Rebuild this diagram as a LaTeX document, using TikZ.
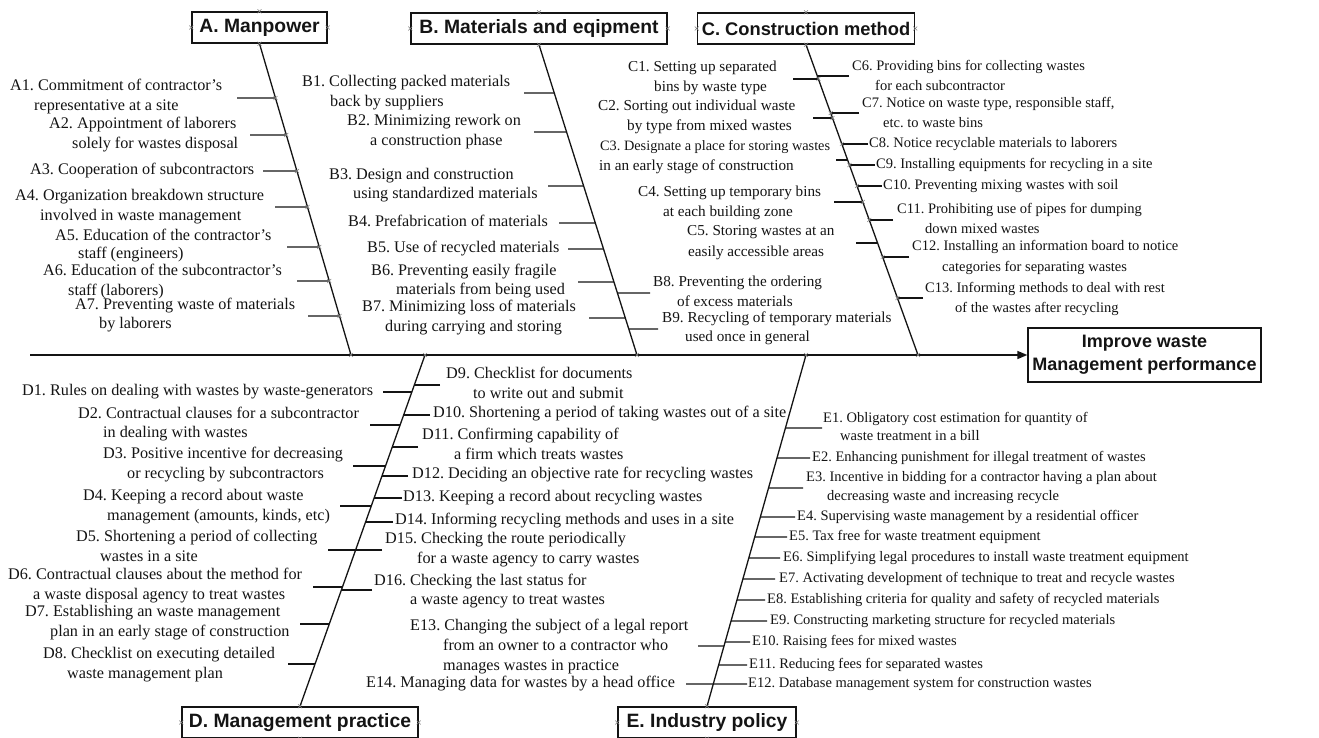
\documentclass[tikz,border=0pt]{standalone}
\usepackage{fontspec}
\setmainfont{Liberation Serif}
\newfontfamily\hfont{Liberation Sans}
\usetikzlibrary{arrows.meta}
\definecolor{ink}{gray}{0.08}
\frenchspacing
\newcommand\mylab[5][]{\node[lbl,#1] (#2) at (#3,#4) {#5};}
\newcommand\myrib[5]{%
  \coordinate (#1) at (intersection of #2--#3 and 0,#4--1,#4);
  \coordinate (#1f) at (#5,#4);
  \draw[ribline] (#1f) -- (#1);}
\begin{document}
\begin{tikzpicture}[x={(1pt,0)}, y={(0,-1pt)},
  lbl/.style={anchor=west, inner sep=0pt, text=ink, text height=11pt, text depth=3.5pt, font=\frenchspacing\fontsize{16.2}{19}\selectfont},
  fc/.style={font=\frenchspacing\fontsize{15.2}{19}\selectfont},
  fr/.style={font=\frenchspacing\fontsize{14.5}{19}\selectfont},
  fb/.style={font=\frenchspacing\fontsize{15.2}{19}\selectfont},
  fs/.style={font=\frenchspacing\fontsize{14.3}{19}\selectfont},
  catbox/.style={draw=ink, line width=1.4pt, inner sep=0pt, text=ink, minimum height=31pt, font=\hfont\bfseries\fontsize{19.3}{23}\selectfont},
  goalbox/.style={draw=ink, line width=1.4pt, inner sep=0pt, text=ink, minimum width=233pt, minimum height=54pt, align=center, font=\hfont\bfseries\fontsize{18}{23}\selectfont},
  ribline/.style={draw=ink, line width=1.2pt},
  spineline/.style={draw=ink, line width=1.3pt},
  mainline/.style={draw=ink, line width=1.5pt},
  xmk/.style={draw=gray, line width=0.5pt},
  xm/.pic={\draw[xmk] (-2,-2) -- (2,2) (-2,2) -- (2,-2);}]
\useasboundingbox (0,0) rectangle (1319,738);
\fill[white] (0,0) rectangle (1319,738);

% category boxes
\node[catbox, minimum width=135pt] (A) at (259.5,27.5) {A. Manpower};
\node[catbox, minimum width=256pt] (B) at (539,28.5) {B. Materials and eqipment};
\node[catbox, minimum width=217pt, font=\hfont\bfseries\fontsize{18.3}{23}\selectfont] (C) at (806,28.5) {C. Construction method};
\node[catbox, minimum width=236pt] (D) at (300,722.5) {D. Management practice};
\node[catbox, minimum width=178pt] (E) at (707,722.5) {E. Industry policy};
\node[goalbox] (G) at (1144.5,355) {Improve waste\\Management performance};

% main line
\coordinate (m0) at (30,355);
\draw[mainline, -{Triangle[length=10pt,width=8pt]}] (m0) -- (G.west);

% spine junctions
\coordinate (aT) at (A.south); \coordinate (aJ) at (351,355);
\coordinate (bT) at (B.south); \coordinate (bJ) at (637,355);
\coordinate (cT) at (C.south); \coordinate (cJ) at (918,355);
\coordinate (dT) at (D.north); \coordinate (dJ) at (425,355);
\coordinate (eT) at (E.north); \coordinate (eJ) at (806,355);
\draw[spineline] (aT) -- (aJ);
\draw[spineline] (bT) -- (bJ);
\draw[spineline] (cT) -- (cJ);
\draw[spineline] (dJ) -- (dT);
\draw[spineline] (eJ) -- (eT);

% ribs A
\myrib{rA1}{aT}{aJ}{98}{237}
\myrib{rA2}{aT}{aJ}{135}{250}
\myrib{rA3}{aT}{aJ}{171}{263}
\myrib{rA4}{aT}{aJ}{207}{275}
\myrib{rA5}{aT}{aJ}{247}{287}
\myrib{rA6}{aT}{aJ}{281}{297}
\myrib{rA7}{aT}{aJ}{316}{308}
% ribs B
\myrib{rB1}{bT}{bJ}{93}{524}
\myrib{rB2}{bT}{bJ}{132}{534}
\myrib{rB3}{bT}{bJ}{186}{548}
\myrib{rB4}{bT}{bJ}{223}{559}
\myrib{rB5}{bT}{bJ}{249}{568}
\myrib{rB6}{bT}{bJ}{282}{578}
\myrib{rB7}{bT}{bJ}{318}{589}
\myrib{rB8}{bT}{bJ}{293}{650}
\myrib{rB9}{bT}{bJ}{329}{658}
% ribs C
\myrib{rC1}{cT}{cJ}{79}{793}
\myrib{rC6}{cT}{cJ}{76}{849}
\myrib{rC2}{cT}{cJ}{118}{813}
\myrib{rC7}{cT}{cJ}{113}{859}
\myrib{rC8}{cT}{cJ}{144}{868}
\myrib{rC3}{cT}{cJ}{160}{836}
\myrib{rC9}{cT}{cJ}{165}{875}
\myrib{rC10}{cT}{cJ}{186}{882}
\myrib{rC4}{cT}{cJ}{202}{834}
\myrib{rC11}{cT}{cJ}{220}{893}
\myrib{rC5}{cT}{cJ}{243}{856}
\myrib{rC12}{cT}{cJ}{257}{909}
\myrib{rC13}{cT}{cJ}{298}{923}
% ribs D
\myrib{rD1}{dJ}{dT}{392}{383}
\myrib{rD9}{dJ}{dT}{385}{440}
\myrib{rD10}{dJ}{dT}{415}{430}
\myrib{rD2}{dJ}{dT}{425}{370}
\myrib{rD11}{dJ}{dT}{447}{418}
\myrib{rD3}{dJ}{dT}{466}{353}
\myrib{rD12}{dJ}{dT}{476}{408}
\myrib{rD13}{dJ}{dT}{498}{402}
\myrib{rD4}{dJ}{dT}{506}{340}
\myrib{rD14}{dJ}{dT}{522}{393}
\myrib{rD5}{dJ}{dT}{550}{328}
\myrib{rD15}{dJ}{dT}{550}{382}
\myrib{rD6}{dJ}{dT}{587}{313}
\myrib{rD16}{dJ}{dT}{590}{372}
\myrib{rD7}{dJ}{dT}{624}{300}
\myrib{rD8}{dJ}{dT}{664}{288}
% ribs E
\myrib{rE1}{eJ}{eT}{428}{822}
\myrib{rE2}{eJ}{eT}{458}{810}
\myrib{rE3}{eJ}{eT}{488}{803}
\myrib{rE4}{eJ}{eT}{517}{795}
\myrib{rE5}{eJ}{eT}{537}{787}
\myrib{rE6}{eJ}{eT}{558}{780}
\myrib{rE7}{eJ}{eT}{579}{775}
\myrib{rE8}{eJ}{eT}{600}{765}
\myrib{rE9}{eJ}{eT}{621}{767}
\myrib{rE10}{eJ}{eT}{642}{750}
\myrib{rE13}{eJ}{eT}{646}{698}
\myrib{rE11}{eJ}{eT}{665}{747}
\myrib{rE12}{eJ}{eT}{684}{747}
\myrib{rE14}{eJ}{eT}{684}{686}

% connection marks
\foreach \b in {A,B,C,D,E}{
  \pic at (\b.north) {xm}; \pic at (\b.south) {xm};
  \pic at (\b.west) {xm}; \pic at (\b.east) {xm};}
\foreach \p in {aJ,bJ,cJ,dJ,eJ,rA1,rA2,rA3,rA4,rA5,rA6,rA7,rC1,rC2,rC7,rC8,rC9,rC10,rC4,rC11,rC12,rC13}{\pic at (\p) {xm};}

% labels A
\mylab{A1a}{10}{87}{A1. Commitment of contractor’s}
\mylab{A1b}{34}{107}{representative at a site}
\mylab{A2a}{49}{125}{A2. Appointment of laborers}
\mylab{A2b}{72}{145}{solely for wastes disposal}
\mylab{A3}{30}{171}{A3. Cooperation of subcontractors}
\mylab{A4a}{15}{197}{A4. Organization breakdown structure}
\mylab{A4b}{40}{217}{involved in waste management}
\mylab{A5a}{55}{237}{A5. Education of the contractor’s}
\mylab{A5b}{78}{255}{staff (engineers)}
\mylab{A6a}{43}{272}{A6. Education of the subcontractor’s}
\mylab{A6b}{68}{292}{staff (laborers)}
\mylab{A7a}{75}{306}{A7. Preventing waste of materials}
\mylab{A7b}{99}{325}{by laborers}
% labels B
\mylab{B1a}{302}{83}{B1. Collecting packed materials}
\mylab{B1b}{330}{103}{back by suppliers}
\mylab{B2a}{347}{122}{B2. Minimizing rework on}
\mylab{B2b}{370}{142}{a construction phase}
\mylab{B3a}{329}{176}{B3. Design and construction}
\mylab{B3b}{353}{195}{using standardized materials}
\mylab{B4}{348}{223}{B4. Prefabrication of materials}
\mylab{B5}{367}{249}{B5. Use of recycled materials}
\mylab{B6a}{371}{272}{B6. Preventing easily fragile}
\mylab{B6b}{396}{291}{materials from being used}
\mylab{B7a}{362}{308}{B7. Minimizing loss of materials}
\mylab{B7b}{385}{328}{during carrying and storing}
\mylab[fb]{B8a}{653}{283}{B8. Preventing the ordering}
\mylab[fb]{B8b}{677}{303}{of excess materials}
\mylab[fb]{B9a}{662}{319}{B9. Recycling of temporary materials}
\mylab[fb]{B9b}{685}{338}{used once in general}
% labels C
\mylab[fc]{C1a}{628}{68}{C1. Setting up separated}
\mylab[fc]{C1b}{654}{88}{bins by waste type}
\mylab[fc]{C2a}{598}{107}{C2. Sorting out individual waste}
\mylab[fc]{C2b}{627}{127}{by type from mixed wastes}
\mylab[fs]{C3a}{600}{147}{C3. Designate a place for storing wastes}
\mylab[fc]{C3b}{599}{167}{in an early stage of construction}
\mylab[fc]{C4a}{638}{193}{C4. Setting up temporary bins}
\mylab[fc]{C4b}{663}{213}{at each building zone}
\mylab[fc]{C5a}{687}{232}{C5. Storing wastes at an}
\mylab[fc]{C5b}{688}{253}{easily accessible areas}
\mylab[fr]{C6a}{852}{67}{C6. Providing bins for collecting wastes}
\mylab[fr]{C6b}{875}{87}{for each subcontractor}
\mylab[fr]{C7a}{862}{104}{C7. Notice on waste type, responsible staff,}
\mylab[fr]{C7b}{883}{124}{etc. to waste bins}
\mylab[fr]{C8}{869}{144}{C8. Notice recyclable materials to laborers}
\mylab[fr]{C9}{876}{165}{C9. Installing equipments for recycling in a site}
\mylab[fr]{C10}{883}{186}{C10. Preventing mixing wastes with soil}
\mylab[fr]{C11a}{897}{210}{C11. Prohibiting use of pipes for dumping}
\mylab[fr]{C11b}{925}{230}{down mixed wastes}
\mylab[fr]{C12a}{912}{247}{C12. Installing an information board to notice}
\mylab[fr]{C12b}{942}{268}{categories for separating wastes}
\mylab[fr]{C13a}{925}{289}{C13. Informing methods to deal with rest}
\mylab[fr]{C13b}{955}{309}{of the wastes after recycling}
% labels D
\mylab{D1}{22}{392}{D1. Rules on dealing with wastes by waste-generators}
\mylab{D2a}{78}{415}{D2. Contractual clauses for a subcontractor}
\mylab{D2b}{103}{434}{in dealing with wastes}
\mylab{D3a}{103}{455}{D3. Positive incentive for decreasing}
\mylab{D3b}{127}{475}{or recycling by subcontractors}
\mylab{D4a}{83}{497}{D4. Keeping a record about waste}
\mylab{D4b}{107}{517}{management (amounts, kinds, etc)}
\mylab{D5a}{76}{538}{D5. Shortening a period of collecting}
\mylab{D5b}{100}{558}{wastes in a site}
\mylab{D6a}{8}{576}{D6. Contractual clauses about the method for}
\mylab{D6b}{33}{596}{a waste disposal agency to treat wastes}
\mylab{D7a}{25}{613}{D7. Establishing an waste management}
\mylab{D7b}{50}{633}{plan in an early stage of construction}
\mylab{D8a}{43}{655}{D8. Checklist on executing detailed}
\mylab{D8b}{67}{675}{waste management plan}
\mylab{D9a}{446}{375}{D9. Checklist for documents}
\mylab{D9b}{473}{395}{to write out and submit}
\mylab{D10}{433}{414}{D10. Shortening a period of taking wastes out of a site}
\mylab{D11a}{422}{436}{D11. Confirming capability of}
\mylab{D11b}{454}{456}{a firm which treats wastes}
\mylab{D12}{412}{475}{D12. Deciding an objective rate for recycling wastes}
\mylab{D13}{403}{498}{D13. Keeping a record about recycling wastes}
\mylab{D14}{395}{521}{D14. Informing recycling methods and uses in a site}
\mylab{D15a}{385}{540}{D15. Checking the route periodically}
\mylab{D15b}{417}{560}{for a waste agency to carry wastes}
\mylab{D16a}{374}{582}{D16. Checking the last status for}
\mylab{D16b}{410}{601}{a waste agency to treat wastes}
% labels E
\mylab{E13a}{410}{627}{E13. Changing the subject of a legal report}
\mylab{E13b}{443}{647}{from an owner to a contractor who}
\mylab{E13c}{443}{667}{manages wastes in practice}
\mylab{E14}{366}{684}{E14. Managing data for wastes by a head office}
\mylab[fr]{E1a}{823}{419}{E1. Obligatory cost estimation for quantity of}
\mylab[fr]{E1b}{840}{437}{waste treatment in a bill}
\mylab[fr]{E2}{812}{458}{E2. Enhancing punishment for illegal treatment of wastes}
\mylab[fr]{E3a}{806}{478}{E3. Incentive in bidding for a contractor having a plan about}
\mylab[fr]{E3b}{827}{497}{decreasing waste and increasing recycle}
\mylab[fr]{E4}{797}{517}{E4. Supervising waste management by a residential officer}
\mylab[fr]{E5}{789}{537}{E5. Tax free for waste treatment equipment}
\mylab[fr]{E6}{783}{558}{E6. Simplifying legal procedures to install waste treatment equipment}
\mylab[fr]{E7}{779}{579}{E7. Activating development of technique to treat and recycle wastes}
\mylab[fr]{E8}{767}{600}{E8. Establishing criteria for quality and safety of recycled materials}
\mylab[fr]{E9}{770}{621}{E9. Constructing marketing structure for recycled materials}
\mylab[fr]{E10}{752}{642}{E10. Raising fees for mixed wastes}
\mylab[fr]{E11}{749}{665}{E11. Reducing fees for separated wastes}
\mylab[fr]{E12}{748}{684}{E12. Database management system for construction wastes}
\end{tikzpicture}
\end{document}
